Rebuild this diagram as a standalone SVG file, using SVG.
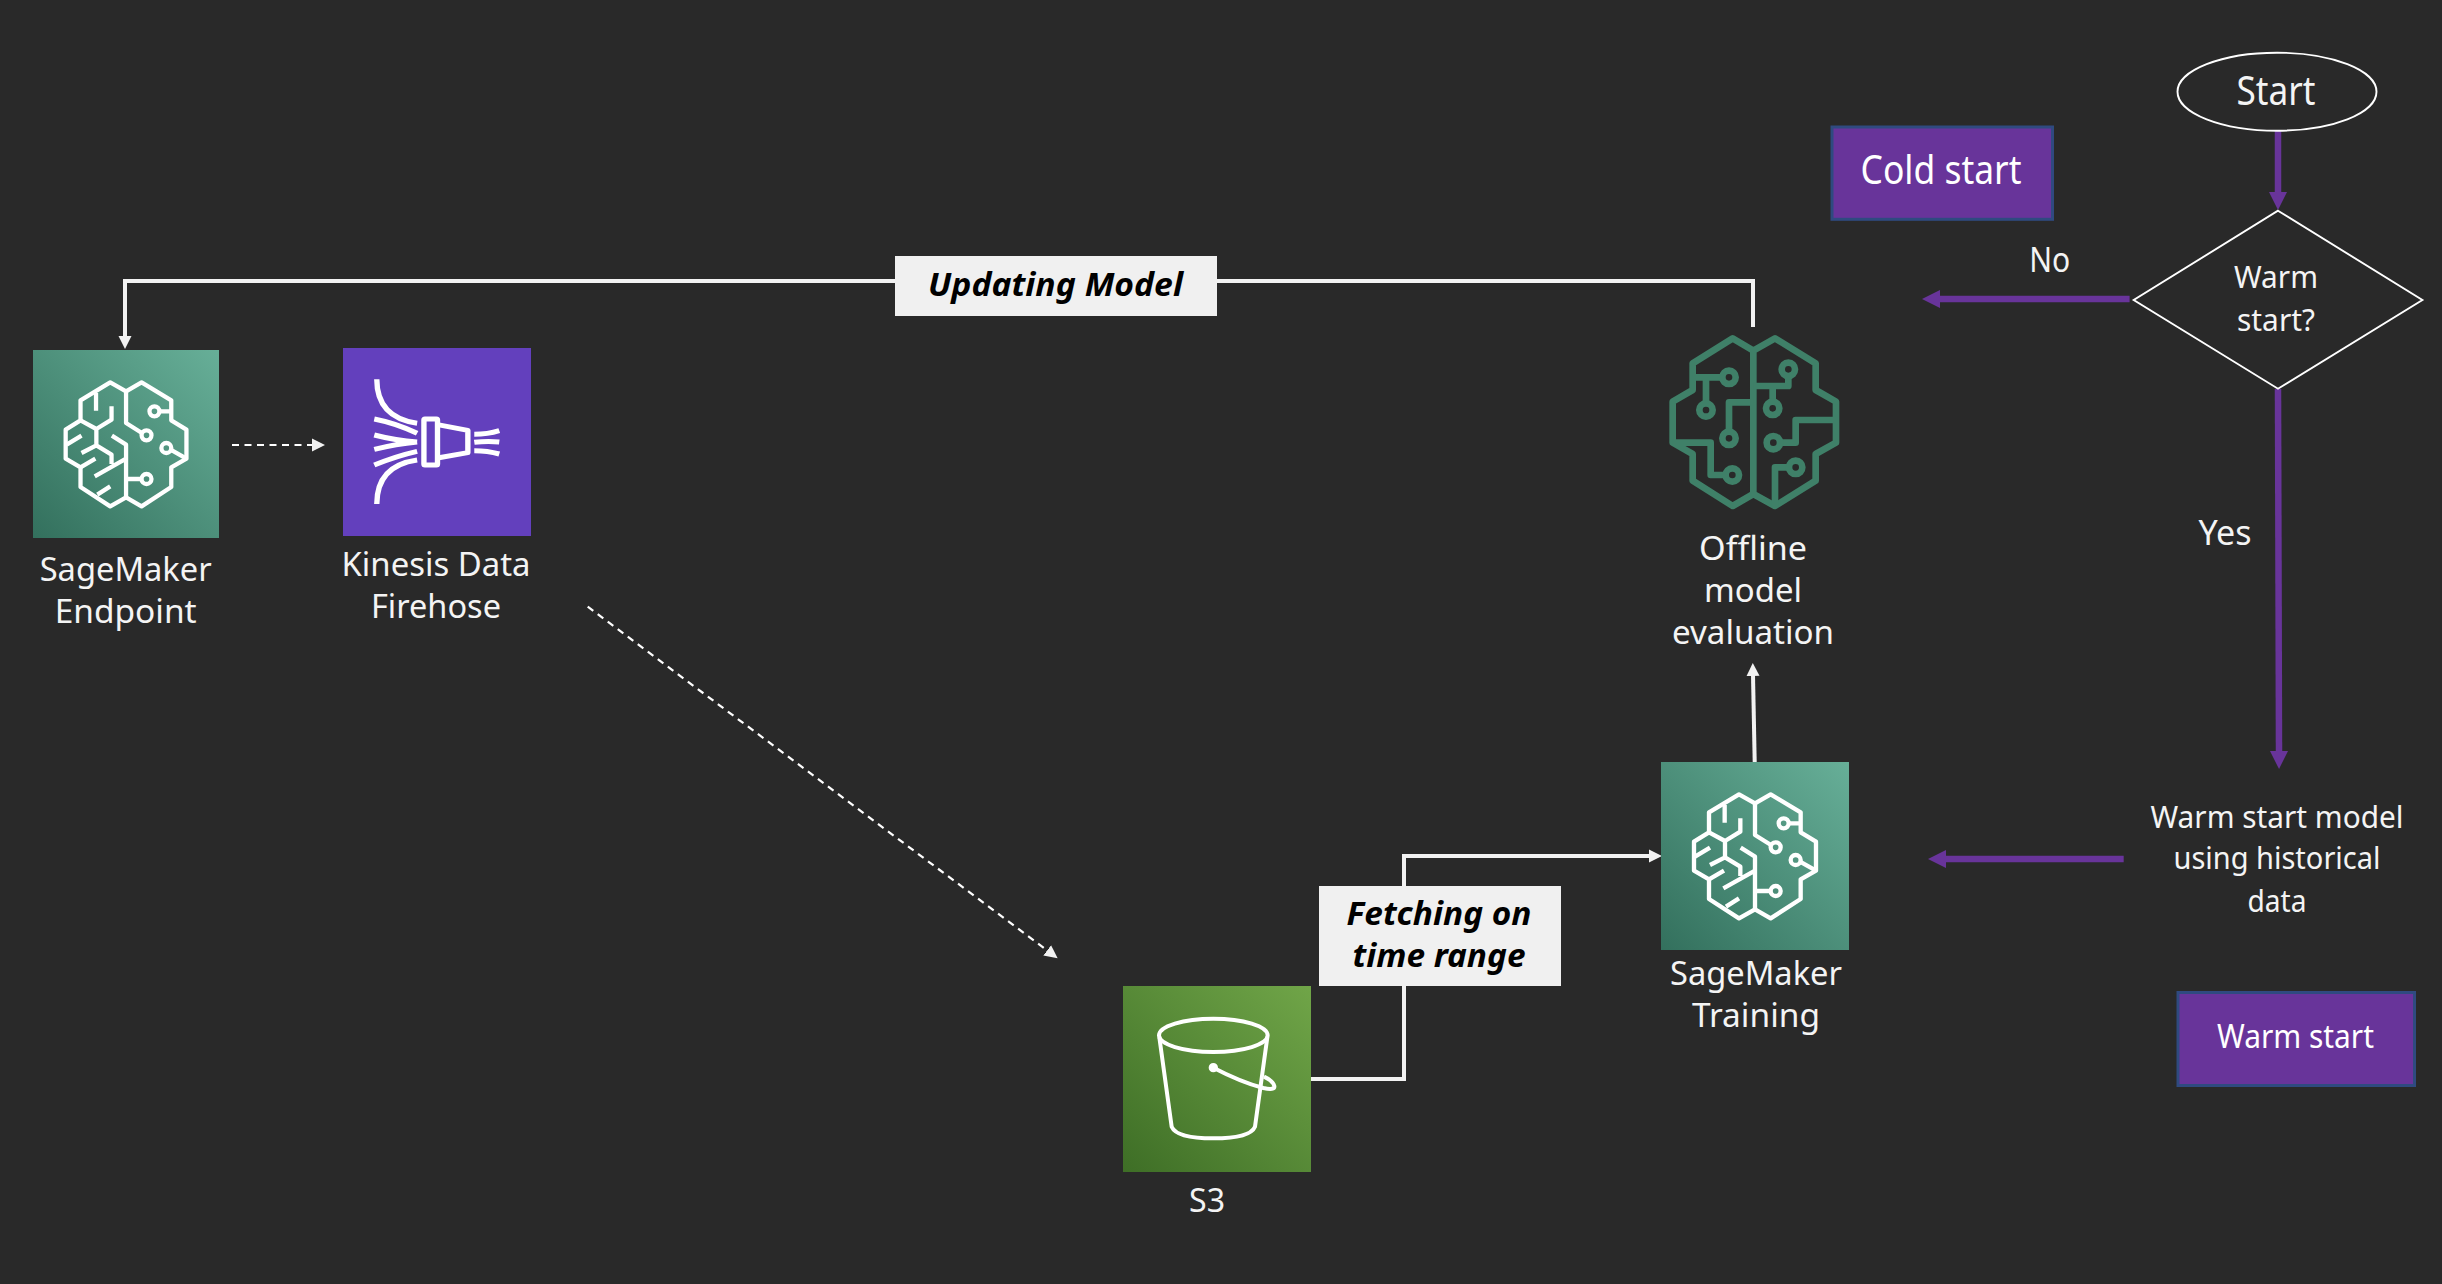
<svg xmlns="http://www.w3.org/2000/svg" xmlns:xlink="http://www.w3.org/1999/xlink" width="2442" height="1284" viewBox="0 0 2442 1284">
<style>
text{font-family:"Noto Sans","Open Sans","Liberation Sans",sans-serif;text-anchor:middle;fill:#f4f4f4}
.lb{font-size:33px}
.tag{font-size:33px;font-weight:700;font-style:italic;fill:#000}
.tagbox{fill:#f0f0f0}
.key{fill:#68349a;stroke:#2f4a80;stroke-width:3}
.flow{fill:none;stroke:#fff;stroke-width:1.9}
.pur{fill:none;stroke:#68349a;stroke-width:6.5}
.wht{fill:none;stroke:#f2f2f2;stroke-width:4}
.dash{fill:none;stroke:#fff;stroke-width:2.2;stroke-dasharray:7 5.5}
.ic{fill:none;stroke:#fff;stroke-linejoin:round;stroke-linecap:butt}
</style>
<defs>
<linearGradient id="gSm" x1="0" y1="1" x2="1" y2="0"><stop offset="0" stop-color="#33705d"/><stop offset="1" stop-color="#67af98"/></linearGradient>
<linearGradient id="gS3" x1="0" y1="1" x2="1" y2="0"><stop offset="0" stop-color="#3e6e26"/><stop offset="1" stop-color="#70a548"/></linearGradient>
<marker id="hP" markerUnits="userSpaceOnUse" markerWidth="20" markerHeight="20" refX="1" refY="10" orient="auto"><path d="M0,1 L18,10 L0,19Z" fill="#68349a"/></marker>
<marker id="hW" markerUnits="userSpaceOnUse" markerWidth="16" markerHeight="16" refX="1" refY="8" orient="auto"><path d="M0,1.5 L13,8 L0,14.5Z" fill="#f2f2f2"/></marker>
<g id="brain" class="ic" stroke-width="13">
<path d="M345,160 297,133 207,187V247L162,275V362L207,388V447L297,505 345,478 392,505 482,447V388L528,362V275L482,247V187L392,133Z"/>
<path d="M345,160V255L393,285M445,220H482M480,335 528,362M393,423H345M302,293 345,320V478M250,415 345,362M254,165V218M301,205V245L255,273 207,247M255,273V322L210,345M255,322 301,350V378M165,320 210,293M207,388 252,362M258,470 297,445"/>
<circle cx="431" cy="220" r="15"/><circle cx="407" cy="292" r="15"/><circle cx="467" cy="330" r="15"/><circle cx="407" cy="423" r="15"/>
</g>
</defs>
<rect width="2442" height="1284" fill="#292929"/>

<g id="connectors">
<path class="wht" marker-end="url(#hW)" d="M1753,327V281H125V337"/>
<path class="dash" marker-end="url(#hW)" d="M232,445H313"/>
<path class="dash" marker-end="url(#hW)" d="M587.7,606.7L1048,951"/>
<path class="wht" marker-end="url(#hW)" d="M1311,1079H1404V856H1650"/>
<path class="wht" marker-end="url(#hW)" d="M1754.7,762L1753,675"/>
<path class="pur" marker-end="url(#hP)" d="M2278,131V193"/>
<path class="pur" marker-end="url(#hP)" d="M2129.6,299H1939"/>
<path class="pur" marker-end="url(#hP)" d="M2278,389L2279,752"/>
<path class="pur" marker-end="url(#hP)" d="M2123.7,859H1945"/>
</g>

<g id="label-updating"><rect class="tagbox" x="895" y="256" width="322" height="60"/><text class="tag" x="1055.5" y="295.7" textLength="255" lengthAdjust="spacingAndGlyphs">Updating Model</text></g>
<g id="label-fetching"><rect class="tagbox" x="1319" y="886" width="242" height="100"/><text class="tag" x="1439" y="925" textLength="185" lengthAdjust="spacingAndGlyphs">Fetching on</text><text class="tag" x="1439" y="966.7" textLength="173" lengthAdjust="spacingAndGlyphs">time range</text></g>

<g id="sagemaker-endpoint">
<rect x="33" y="350" width="186" height="188" fill="url(#gSm)"/>
<use xlink:href="#brain" href="#brain" transform="translate(33,350) scale(.33,.33333) translate(-63,-36)"/>
<text class="lb" x="125.7" y="581" textLength="172" lengthAdjust="spacingAndGlyphs">SageMaker</text>
<text class="lb" x="125.7" y="622.7" textLength="142" lengthAdjust="spacingAndGlyphs">Endpoint</text>
</g>

<g id="kinesis-firehose">
<rect x="343" y="348" width="188" height="188" fill="#6340bd"/>
<g class="ic" stroke-width="15" transform="translate(0,320) scale(.35714,.33333)">
<path d="M1055,178C1055,250 1090,298 1168,310M1048,297Q1110,310 1168,340M1048,345Q1110,362 1168,366M1048,388Q1110,372 1168,366M1048,435Q1110,408 1168,394M1055,552C1055,480 1090,432 1168,420"/>
<rect x="1187" y="297" width="38" height="138" rx="3"/>
<path d="M1225,314 1310,331V398L1225,414M1328,343Q1365,343 1398,332M1328,367Q1365,362 1398,366M1328,392Q1365,392 1398,402"/>
</g>
<text class="lb" x="436" y="576" textLength="189" lengthAdjust="spacingAndGlyphs">Kinesis Data</text>
<text class="lb" x="436" y="617.7" textLength="130" lengthAdjust="spacingAndGlyphs">Firehose</text>
</g>

<g id="s3">
<rect x="1123" y="986" width="188" height="186" fill="url(#gS3)"/>
<g class="ic" stroke-width="12" transform="translate(1100,960) scale(.33333)">
<ellipse cx="340" cy="226" rx="163" ry="50"/>
<path d="M178,232 215,500Q230,535 340,535Q450,535 465,500L502,232"/>
<path d="M340,323Q420,365 490,384Q525,392 523,378Q518,362 492,350"/>
<circle cx="340" cy="323" r="10" fill="#fff" stroke-width="8"/>
</g>
<text class="lb" x="1207" y="1212" textLength="36" lengthAdjust="spacingAndGlyphs">S3</text>
</g>

<g id="sagemaker-training">
<rect x="1661" y="762" width="188" height="188" fill="url(#gSm)"/>
<use xlink:href="#brain" href="#brain" transform="translate(1640,750) scale(.33333)"/>
<text class="lb" x="1756" y="985" textLength="172" lengthAdjust="spacingAndGlyphs">SageMaker</text>
<text class="lb" x="1756" y="1027" textLength="128" lengthAdjust="spacingAndGlyphs">Training</text>
</g>

<g id="offline-evaluation">
<g fill="none" stroke="#3f8068" stroke-width="20" stroke-linejoin="round" transform="translate(1640,310) scale(.33333)">
<path d="M340,122 278,85 158,160V240L98,275V398L158,432V512L278,588 340,552 405,588 527,512V432L588,398V275L527,240V160L405,85ZM340,122V552"/>
<path d="M158,202H245M198,202V278M267,363V277H340M255,495H212V398H98M445,200V228H340M398,228V273M422,398H467V330H588M445,472H405V588"/>
<circle cx="267" cy="202" r="20"/><circle cx="198" cy="300" r="20"/><circle cx="267" cy="385" r="20"/><circle cx="277" cy="495" r="20"/><circle cx="445" cy="178" r="20"/><circle cx="398" cy="295" r="20"/><circle cx="400" cy="398" r="20"/><circle cx="467" cy="472" r="20"/>
</g>
<text class="lb" x="1753" y="560" textLength="108" lengthAdjust="spacingAndGlyphs">Offline</text>
<text class="lb" x="1753" y="602" textLength="98" lengthAdjust="spacingAndGlyphs">model</text>
<text class="lb" x="1753" y="644" textLength="162" lengthAdjust="spacingAndGlyphs">evaluation</text>
</g>

<g id="start"><ellipse class="flow" cx="2277" cy="91.7" rx="99.5" ry="39"/><text x="2276" y="105" font-size="40" textLength="79" lengthAdjust="spacingAndGlyphs">Start</text></g>
<g id="decision"><path class="flow" d="M2278,210.7 2422.4,300 2278,388.7 2133.7,300Z"/>
<text x="2276" y="288.3" font-size="31" textLength="84" lengthAdjust="spacingAndGlyphs">Warm</text>
<text x="2276" y="330.7" font-size="31" textLength="78" lengthAdjust="spacingAndGlyphs">start?</text></g>
<g id="label-no"><text x="2049.8" y="272.3" font-size="34" textLength="41" lengthAdjust="spacingAndGlyphs">No</text></g>
<g id="label-yes"><text x="2225" y="545" font-size="34" textLength="53" lengthAdjust="spacingAndGlyphs">Yes</text></g>
<g id="cold-start"><rect class="key" x="1832" y="127" width="220.5" height="92.3"/><text x="1941" y="184" font-size="40" style="fill:#fff" textLength="161" lengthAdjust="spacingAndGlyphs">Cold start</text></g>
<g id="warm-start-model">
<text x="2277" y="828.3" font-size="31" textLength="253" lengthAdjust="spacingAndGlyphs">Warm start model</text>
<text x="2277" y="869.3" font-size="31" textLength="207" lengthAdjust="spacingAndGlyphs">using historical</text>
<text x="2277" y="911.7" font-size="31" textLength="59" lengthAdjust="spacingAndGlyphs">data</text>
</g>
<g id="warm-start"><rect class="key" x="2178" y="992.5" width="236.5" height="93" /><text x="2295.5" y="1048.3" font-size="32" style="fill:#fff" textLength="157" lengthAdjust="spacingAndGlyphs">Warm start</text></g>
</svg>
